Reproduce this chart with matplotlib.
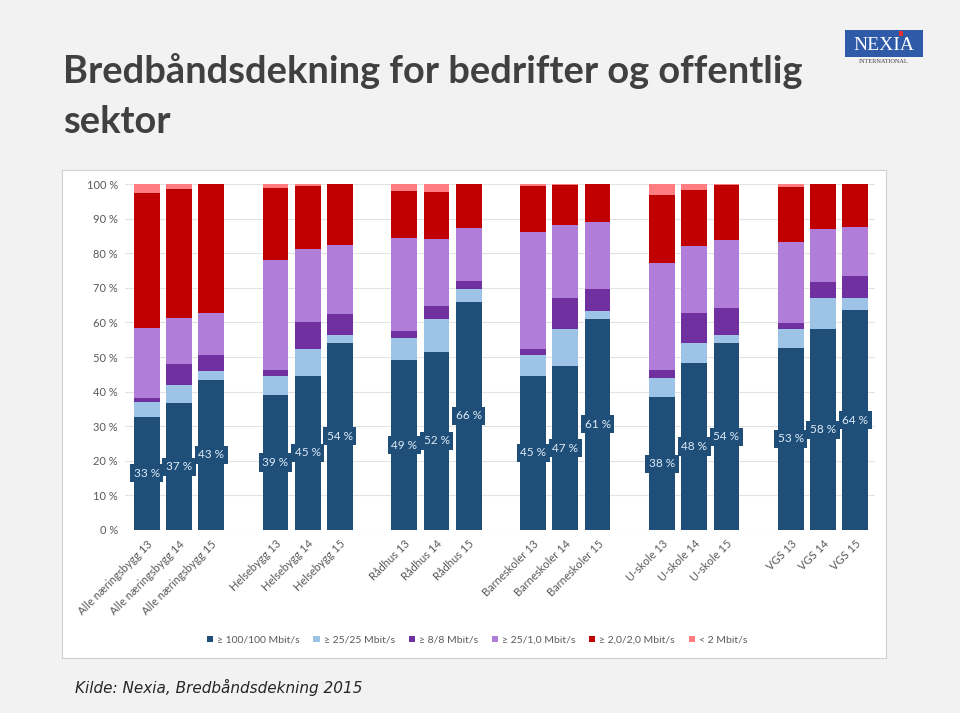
import matplotlib
matplotlib.use("Agg")
import matplotlib.pyplot as plt
from matplotlib.patches import Rectangle
import numpy as np

plt.rcParams["font.family"] = ["Lato", "DejaVu Sans"]

# categories
categories = ["Alle næringsbygg 13", "Alle næringsbygg 14", "Alle næringsbygg 15",
              "Helsebygg 13", "Helsebygg 14", "Helsebygg 15",
              "Rådhus 13", "Rådhus 14", "Rådhus 15",
              "Barneskoler 13", "Barneskoler 14", "Barneskoler 15",
              "U-skole 13", "U-skole 14", "U-skole 15",
              "VGS 13", "VGS 14", "VGS 15"]

series_names = ["≥ 100/100 Mbit/s", "≥ 25/25 Mbit/s", "≥ 8/8 Mbit/s",
                "≥ 25/1,0 Mbit/s", "≥ 2,0/2,0 Mbit/s", "< 2 Mbit/s"]
series_colors = ["#1F4E79", "#9DC3E6", "#7030A0", "#B07ED8", "#C00000", "#FF7C80"]

s100 = [32.7, 36.6, 43.4, 39.0, 44.6, 54.1, 49.1, 51.6, 66.0, 44.6, 47.3, 61.1, 38.4, 48.3, 54.0, 52.7, 58.0, 63.6]
s25 = [4.2, 5.4, 2.5, 5.6, 7.6, 2.4, 6.3, 9.3, 3.6, 6.1, 10.7, 2.1, 5.6, 5.7, 2.5, 5.5, 9.1, 3.6]
s8 = [1.3, 6.1, 4.6, 1.8, 7.8, 5.9, 2.1, 3.8, 2.4, 1.5, 9.0, 6.4, 2.4, 8.8, 7.8, 1.6, 4.6, 6.2]
s25_1 = [20.3, 13.1, 12.3, 31.6, 21.2, 20.0, 26.8, 19.5, 15.2, 34.0, 21.1, 19.5, 30.7, 19.4, 19.6, 23.5, 15.3, 14.2]
s2 = [38.9, 37.4, 37.2, 21.0, 18.3, 17.6, 13.8, 13.6, 12.8, 13.3, 11.7, 10.9, 19.7, 16.2, 15.8, 16.0, 13.0, 12.4]
s_lt2 = [2.6, 1.4, 0.0, 1.0, 0.5, 0.0, 1.9, 2.2, 0.0, 0.5, 0.2, 0.0, 3.2, 1.6, 0.3, 0.7, 0.0, 0.0]
series = [s100, s25, s8, s25_1, s2, s_lt2]

# 3 bars per group, one empty slot between groups
x = np.array([g * 4 + k for g in range(6) for k in range(3)])

fig = plt.figure(figsize=(9.6, 7.13), dpi=100)
fig.patch.set_facecolor("#F2F2F2")

# white chart area behind the axes
bg = fig.add_axes([0.0646, 0.0771, 0.858, 0.684], zorder=0)
bg.set_facecolor("white")
bg.set_xticks([])
bg.set_yticks([])
for sp in bg.spines.values():
    sp.set_color("#D0D0D0")
    sp.set_linewidth(0.8)

ax = fig.add_axes([0.130, 0.2567, 0.781, 0.485], zorder=1)
ax.set_facecolor("none")

bottom = np.zeros(len(x))
for vals, name, col in zip(series, series_names, series_colors):
    ax.bar(x, vals, width=0.8, bottom=bottom, color=col, label=name, zorder=2)
    bottom += np.array(vals)

for xi, v in zip(x, s100):
    ax.text(xi, v / 2, f"{round(v)} %", ha="center", va="center", fontsize=8.5,
            color="#DDEBF7", zorder=3,
            bbox=dict(boxstyle="square,pad=0.3", facecolor="#1F4E79", edgecolor="none"))

ax.set_ylim(0, 100)
ax.set_xlim(-0.68, 22.6)
ax.set_yticks(range(0, 101, 10))
ax.set_yticklabels([f"{t} %" for t in range(0, 101, 10)], fontsize=8, color="#595959")
ax.yaxis.grid(True, color="#E3E3E3", lw=0.8, zorder=0)
ax.set_axisbelow(True)
ax.set_xticks(x)
ax.set_xticklabels(categories, rotation=45, ha="right", rotation_mode="anchor",
                   fontsize=8, color="#595959")
ax.tick_params(length=0, pad=6)
ax.tick_params(axis="y", pad=5)
for sp in ax.spines.values():
    sp.set_visible(False)

fig.legend(loc="center", bbox_to_anchor=(0.497, 0.102), ncol=6, frameon=False,
           fontsize=7.5, handlelength=0.6, handleheight=0.6, handletextpad=0.4,
           columnspacing=1.3, labelcolor="#595959")

fig.text(0.066, 0.8836, "Bredbåndsdekning for bedrifter og offentlig",
         fontsize=27.4, fontweight="bold", color="#404040", va="baseline")
fig.text(0.066, 0.8135, "sektor",
         fontsize=27.4, fontweight="bold", color="#404040", va="baseline")

# logo
fig.patches.append(Rectangle((0.880, 0.920), 0.081, 0.038, transform=fig.transFigure,
                             facecolor="#2E5AA8", edgecolor="none"))
fig.patches.append(Rectangle((0.936, 0.950), 0.005, 0.007, transform=fig.transFigure,
                             facecolor="#E03030", edgecolor="none"))
fig.text(0.9205, 0.9355, "NEXIA", ha="center", va="center", fontsize=14,
         color="white", family="Liberation Serif")
fig.text(0.9205, 0.9137, "INTERNATIONAL", ha="center", va="center", fontsize=4.5,
         color="#404040", family="Liberation Serif")

fig.text(0.078, 0.028, "Kilde: Nexia, Bredbåndsdekning 2015", fontsize=11,
         style="italic", color="#262626", family="DejaVu Sans")

fig.savefig("out.png", dpi=100, facecolor=fig.get_facecolor())
